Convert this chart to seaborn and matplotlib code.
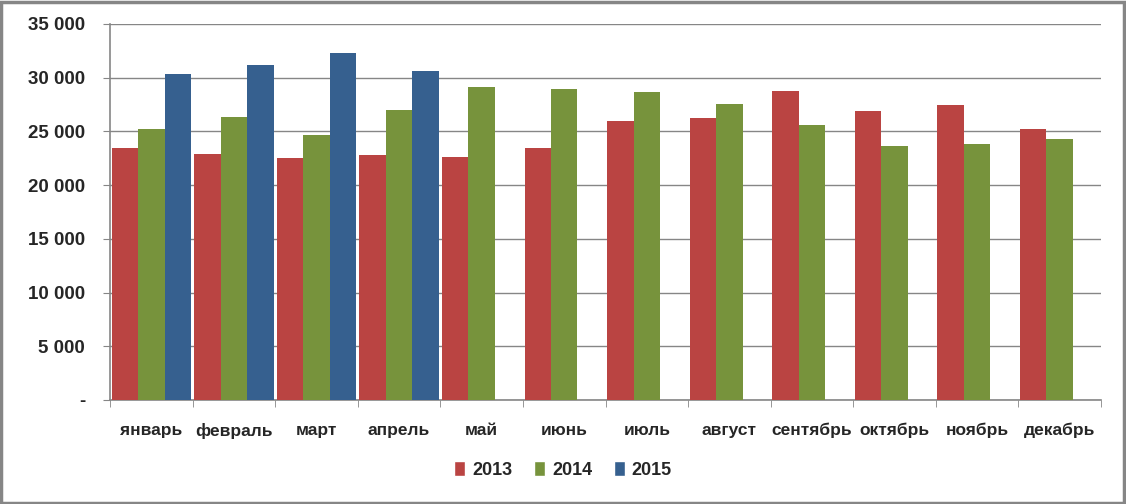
import numpy as np
import pandas as pd
import seaborn as sns
import matplotlib.pyplot as plt
from matplotlib.patches import Patch, Rectangle
from matplotlib.ticker import FuncFormatter, FixedLocator

months = ["январь", "февраль", "март", "апрель", "май", "июнь",
          "июль", "август", "сентябрь", "октябрь", "ноябрь", "декабрь"]
years = ["2013", "2014", "2015"]

vals_2013 = [23480, 22920, 22550, 22830, 22640, 23480, 25990, 26270, 28790, 26930, 27480, 25250]
vals_2014 = [25250, 26370, 24690, 27020, 29160, 28980, 28700, 27580, 25620, 23660, 23850, 24320]
vals_2015 = [30370, 31210, 32330, 30650, np.nan, np.nan, np.nan, np.nan, np.nan, np.nan, np.nan, np.nan]

colors = ["#BA4442", "#77933C", "#36608F"]

df = pd.DataFrame({
    "month": months * 3,
    "year": [y for y in years for _ in months],
    "value": vals_2013 + vals_2014 + vals_2015,
})

sns.set_style("white")
plt.rcParams["font.family"] = ["Liberation Sans", "DejaVu Sans"]

fig = plt.figure(figsize=(11.26, 5.04), dpi=100)
ax = fig.add_axes([110 / 1126, 104 / 504, 991 / 1126, 376 / 504])

sns.barplot(data=df, x="month", y="value", hue="year", palette=colors,
            saturation=1, width=0.96, legend=False, linewidth=0, ax=ax, zorder=3)

grid_c = "#868686"
ax.set_ylim(0, 35000)
ax.set_xlim(-0.5, len(months) - 0.5)
ax.set_yticks(range(0, 35001, 5000))
ax.yaxis.set_major_formatter(FuncFormatter(
    lambda v, p: "-" if v == 0 else f"{int(v):,}".replace(",", " ")))
ax.grid(axis="y", color=grid_c, linewidth=1, zorder=0)
ax.set_axisbelow(True)
ax.set_xlabel("")
ax.set_ylabel("")

for s in ["top", "right"]:
    ax.spines[s].set_visible(False)
for s in ["left", "bottom"]:
    ax.spines[s].set_color(grid_c)
    ax.spines[s].set_linewidth(1.2)

ax.tick_params(axis="y", which="major", left=True, length=5, color=grid_c,
               labelsize=13.5, pad=13)
ax.tick_params(axis="x", which="major", bottom=False, labelsize=12.5, pad=13)
ax.xaxis.set_minor_locator(FixedLocator(np.arange(-0.5, len(months), 1)))
ax.tick_params(axis="x", which="minor", bottom=True, length=5, color=grid_c)
for lab in ax.get_xticklabels() + ax.get_yticklabels():
    lab.set_fontweight("bold")

handles = [Patch(facecolor=c, label=y) for c, y in zip(colors, years)]
fig.legend(handles=handles, loc="center", bbox_to_anchor=(0.5, 1 - 470 / 504),
           ncol=3, frameon=False, handlelength=0.6, handleheight=0.9,
           handletextpad=0.4, columnspacing=1.2,
           prop={"weight": "bold", "size": 13})

fig.add_artist(Rectangle((0.001, 0.002), 0.997, 0.995, transform=fig.transFigure,
                         fill=False, edgecolor=grid_c, linewidth=2.5))

fig.savefig("out.png", dpi=100)
